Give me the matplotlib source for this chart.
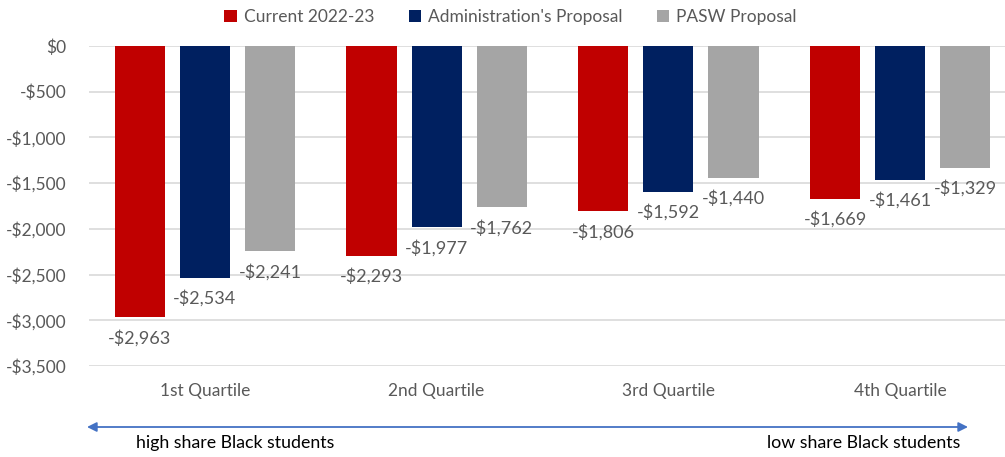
import matplotlib.pyplot as plt
import numpy as np

quartiles = ["1st Quartile", "2nd Quartile", "3rd Quartile", "4th Quartile"]
current = [-2963, -2293, -1806, -1669]
admin = [-2534, -1977, -1592, -1461]
pasw = [-2241, -1762, -1440, -1329]
series_names = ["Current 2022-23", "Administration's Proposal", "PASW Proposal"]
colors = ["#C00000", "#002060", "#A5A5A5"]
yticks = [0, -500, -1000, -1500, -2000, -2500, -3000, -3500]

plt.rcParams['font.family'] = ['Lato', 'DejaVu Sans']
txt = "#595959"

fig = plt.figure(figsize=(10.05, 4.57), dpi=100)
ax = fig.add_axes([89/1005, 1-366/457, 927/1005, 320/457])

x = np.arange(len(quartiles))
step = 0.281
width = 0.216
for i, (vals, name, c) in enumerate(zip([current, admin, pasw], series_names, colors)):
    pos = x + (i - 1) * step
    ax.bar(pos, vals, width, color=c, label=name, zorder=3)
    for p, v in zip(pos, vals):
        ax.annotate("-${:,}".format(abs(v)), (p, v), xytext=(0, -9), textcoords="offset points",
                    ha="center", va="top", fontsize=13, color=txt)

ax.set_xlim(-0.5, 3.5)
ax.set_ylim(-3500, 0)
ax.set_yticks(yticks)
ax.set_yticklabels(["$0" if t == 0 else "-${:,}".format(abs(t)) for t in yticks])
ax.set_xticks(x)
ax.set_xticklabels(quartiles)
ax.tick_params(axis="both", length=0, colors=txt, labelsize=12.5)
ax.tick_params(axis="x", pad=12)
ax.tick_params(axis="y", pad=16)
ax.grid(axis="y", color="#D9D9D9", linewidth=1.2, zorder=0)
for s in ax.spines.values():
    s.set_visible(False)

fig.legend(loc="upper center", bbox_to_anchor=(0.508, 1.015), ncol=3, frameon=False,
           fontsize=12.5, handlelength=0.7, handleheight=0.7, columnspacing=2.0,
           handletextpad=0.4, labelcolor=txt)

# direction arrow under the quartiles
ax.annotate("", xy=(968/1005, 1-427/457), xytext=(87/1005, 1-427/457),
            xycoords="figure fraction", textcoords="figure fraction",
            arrowprops=dict(arrowstyle="<|-|>", color="#4472C4", lw=1.3,
                            mutation_scale=14, shrinkA=0, shrinkB=0))
fig.text(136/1005, 1-443/457, "high share Black students", fontsize=12.8,
         color="black", ha="left", va="center")
fig.text(960/1005, 1-443/457, "low share Black students", fontsize=12.8,
         color="black", ha="right", va="center")

fig.savefig("out.png", dpi=100)
